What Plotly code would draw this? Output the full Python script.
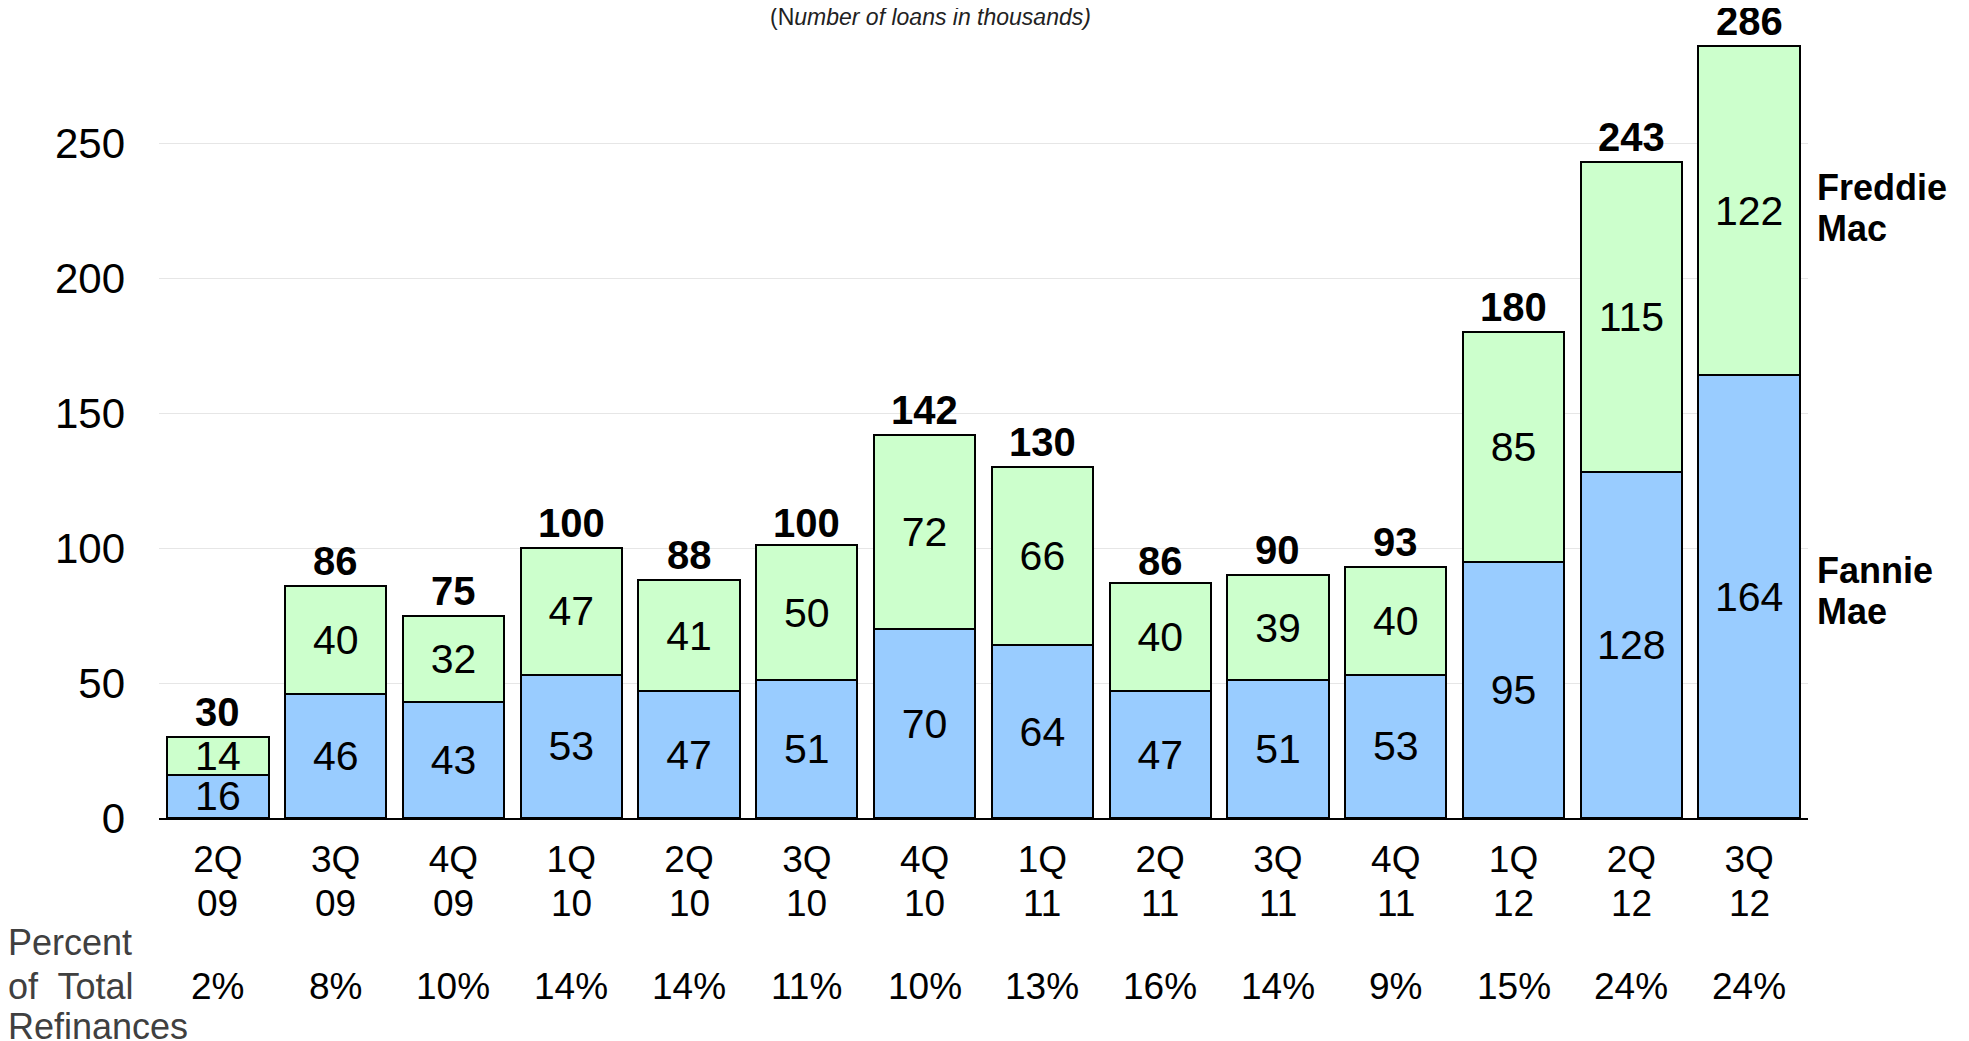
import plotly.graph_objects as go

quarters = ["2Q", "3Q", "4Q", "1Q", "2Q", "3Q", "4Q", "1Q", "2Q", "3Q", "4Q", "1Q", "2Q", "3Q"]
years = ["09", "09", "09", "10", "10", "10", "10", "11", "11", "11", "11", "12", "12", "12"]
fannie = [16, 46, 43, 53, 47, 51, 70, 64, 47, 51, 53, 95, 128, 164]
freddie = [14, 40, 32, 47, 41, 50, 72, 66, 40, 39, 40, 85, 115, 122]
totals = [30, 86, 75, 100, 88, 100, 142, 130, 86, 90, 93, 180, 243, 286]
pct = ["2%", "8%", "10%", "14%", "14%", "11%", "10%", "13%", "16%", "14%", "9%", "15%", "24%", "24%"]
row_label = ["Percent", "of  Total", "Refinances"]
yticks = [0, 50, 100, 150, 200, 250]

FONT = "Liberation Sans, Arial, sans-serif"
x = list(range(len(quarters)))

# plot area (absolute page px): left 159, right 1808, top 8, bottom 817.5 ; page body has 8px margin
PH = 809.0

fig = go.Figure()
fig.add_trace(go.Bar(
    x=x, y=fannie, name="Fannie Mae", width=0.86,
    marker=dict(color="#99CCFF", line=dict(color="black", width=2)),
    text=[str(v) for v in fannie], textposition="inside", insidetextanchor="middle",
    textangle=0, constraintext="none",
    textfont=dict(family=FONT, size=41, color="black"),
))
fig.add_trace(go.Bar(
    x=x, y=freddie, name="Freddie Mac", width=0.86,
    marker=dict(color="#CCFFCC", line=dict(color="black", width=2)),
    text=[str(v) for v in freddie], textposition="inside", insidetextanchor="middle",
    textangle=0, constraintext="none",
    textfont=dict(family=FONT, size=41, color="black"),
))

annotations = []
for i, t in enumerate(totals):
    annotations.append(dict(x=i, xref="x", y=t, yref="y", yanchor="bottom", xanchor="center",
                            yshift=1, text="<b>%d</b>" % t, showarrow=False,
                            font=dict(family=FONT, size=40, color="black")))
for i, (yr, p) in enumerate(zip(years, pct)):
    annotations.append(dict(x=i, xref="x", y=-(903 - 817.5) / PH, yref="paper", text=yr, showarrow=False,
                            xanchor="center", yanchor="middle",
                            font=dict(family=FONT, size=37, color="black")))
    annotations.append(dict(x=i, xref="x", y=-(986 - 817.5) / PH, yref="paper", text=p, showarrow=False,
                            xanchor="center", yanchor="middle",
                            font=dict(family=FONT, size=37, color="black")))
for txt, yy in zip(row_label, [942, 986, 1026]):
    annotations.append(dict(x=(6 - 159) / 1649, xref="paper", y=-(yy - 817.5) / PH, yref="paper",
                            text=txt, showarrow=False, xanchor="left", yanchor="middle", align="left",
                            font=dict(family=FONT, size=36, color="#404040")))
last = len(quarters) - 1
for lines, yc in ((["Freddie", "Mac"], fannie[last] + freddie[last] / 2 + 1),
                  (["Fannie", "Mae"], fannie[last] / 2 + 2)):
    for k, t in enumerate(lines):
        annotations.append(dict(x=1.004, xref="paper", y=yc, yref="y", yshift=20.5 - 41 * k,
                                text="<b>%s</b>" % t, showarrow=False, xanchor="left", yanchor="middle",
                                align="left", font=dict(family=FONT, size=36, color="black")))
annotations.append(dict(x=(930 - 159) / 1649, xref="paper", y=1 - (17 - 8) / PH, yref="paper",
                        text="(N<i>umber of loans in thousands)</i>", showarrow=False,
                        xanchor="center", yanchor="middle",
                        font=dict(family=FONT, size=23, color="#222222")))

fig.update_layout(
    barmode="stack", bargap=0.14,
    width=1969, height=1041,
    margin=dict(l=151, r=169, t=0, b=231, pad=0),
    plot_bgcolor="white", paper_bgcolor="white",
    showlegend=False,
    annotations=annotations,
    font=dict(family=FONT, color="black"),
)
fig.update_xaxes(
    tickvals=x, ticktext=quarters, range=[-0.5, 13.5],
    showline=True, linecolor="black", linewidth=2, ticks="",
    showgrid=False, zeroline=False, ticklabelstandoff=8,
    tickfont=dict(family=FONT, size=37, color="black"),
)
fig.update_yaxes(
    range=[0, 300], tickvals=yticks, showgrid=True, gridcolor="#E6E6E6", gridwidth=1,
    zeroline=False, showline=False, ticks="",
    tickfont=dict(family=FONT, size=42, color="black"), ticklabelstandoff=33,
)

fig.write_html("out.html")
